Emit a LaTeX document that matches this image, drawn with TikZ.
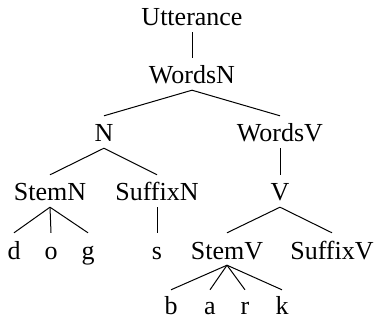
\documentclass[tikz,border=0pt]{standalone}
\usepackage{fontspec}
\setmainfont{Liberation Serif}
\begin{document}
\begin{tikzpicture}[x=1pt,y=-1pt,
  lab/.style={anchor=base,inner xsep=0pt,inner ysep=0pt,text height=26pt,text depth=6pt,font=\fontsize{26}{30}\selectfont},
  leaf/.style={lab,text height=24pt,text depth=0pt},
  edge/.style={line width=1pt}]
\useasboundingbox (0,0) rectangle (377,320);
\node[lab] (utt) at (192,26) {Utterance};
\node[lab] (wn) at (192,84) {WordsN};
\node[lab] (n) at (104,142) {N};
\node[lab] (wv) at (280,142) {WordsV};
\node[lab] (sn) at (50,201) {StemN};
\node[lab] (fn) at (157,201) {SuffixN};
\node[lab] (v) at (280,201) {V};
\node[lab] (d) at (14,259) {d};
\node[lab] (o) at (51,259) {o};
\node[lab] (g) at (88,259) {g};
\node[lab] (s) at (157,259) {s};
\node[lab] (sv) at (227,259) {StemV};
\node[lab] (fv) at (332,259) {SuffixV};
\node[leaf] (b) at (171,314) {b};
\node[leaf] (a) at (210,314) {a};
\node[leaf] (r) at (245,314) {r};
\node[leaf] (k) at (282,314) {k};
\draw[edge] (utt.south) -- (wn.north);
\draw[edge] (wn.south) -- (n.north);
\draw[edge] (wn.south) -- (wv.north);
\draw[edge] (n.south) -- (sn.north);
\draw[edge] (n.south) -- (fn.north);
\draw[edge] (wv.south) -- (v.north);
\draw[edge] (sn.south) -- (d.north);
\draw[edge] (sn.south) -- (o.north);
\draw[edge] (sn.south) -- (g.north);
\draw[edge] (fn.south) -- (s.north);
\draw[edge] (v.south) -- (sv.north);
\draw[edge] (v.south) -- (fv.north);
\draw[edge] (sv.south) -- (b.north);
\draw[edge] (sv.south) -- (a.north);
\draw[edge] (sv.south) -- (r.north);
\draw[edge] (sv.south) -- (k.north);
\end{tikzpicture}
\end{document}
